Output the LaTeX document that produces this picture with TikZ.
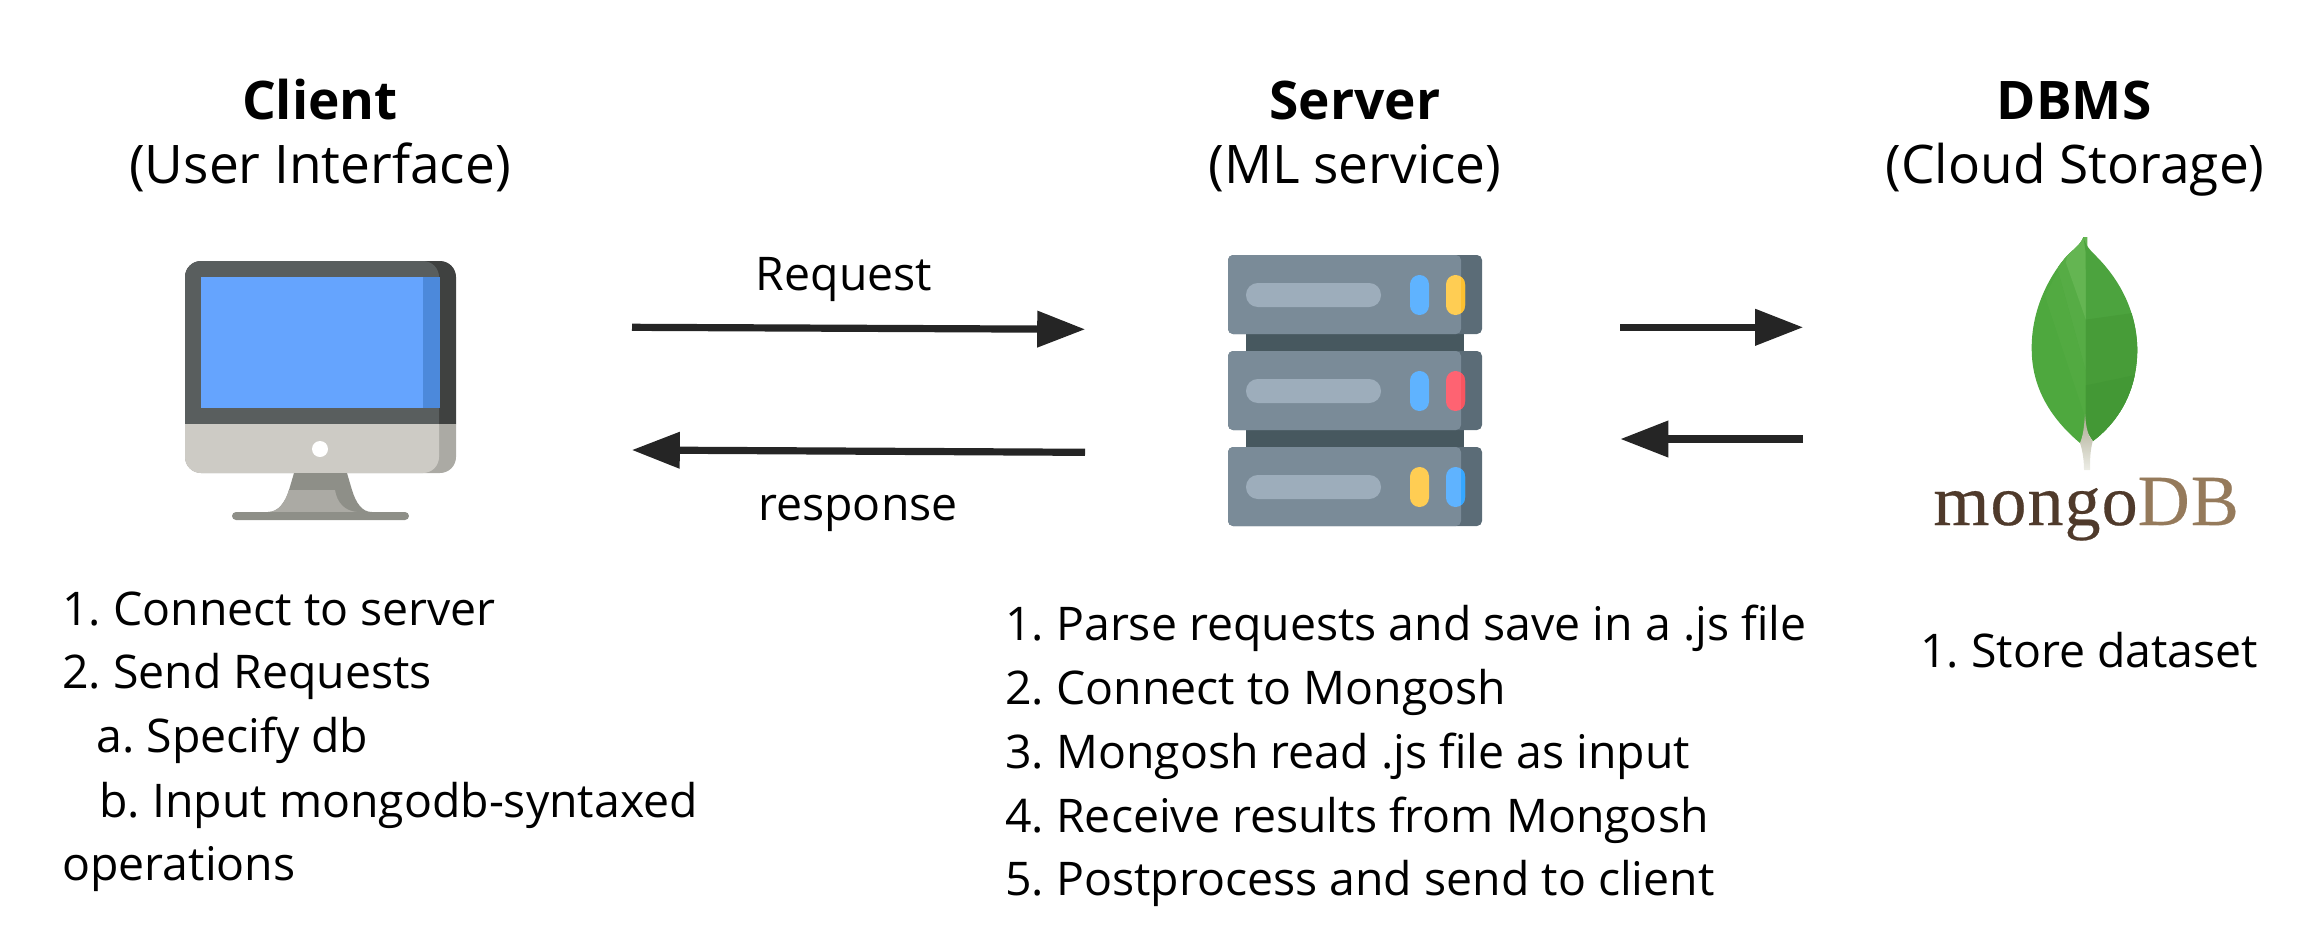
\documentclass[tikz,border=0pt]{standalone}
\usepackage{fontspec}
\setmainfont{Open Sans}
\newfontfamily\logofont[LetterSpace=1.5,FakeBold=0.35]{Liberation Serif}
\usetikzlibrary{arrows.meta}
\definecolor{inkc}{HTML}{252525}
\definecolor{bezel}{HTML}{595E5E}
\definecolor{bezeld}{HTML}{3F4140}
\definecolor{chin}{HTML}{CDCBC5}
\definecolor{chind}{HTML}{ABAAA4}
\definecolor{scr}{HTML}{65A4FE}
\definecolor{scrd}{HTML}{4C89DB}
\definecolor{standd}{HTML}{8E8F88}
\definecolor{rackc}{HTML}{7A8B98}
\definecolor{rackd}{HTML}{5B6C77}
\definecolor{rackj}{HTML}{47585F}
\definecolor{pillc}{HTML}{9DADBB}
\definecolor{ledb}{HTML}{5FB3FF}
\definecolor{ledbd}{HTML}{36A7FF}
\definecolor{ledy}{HTML}{FFCD53}
\definecolor{ledyd}{HTML}{FDC030}
\definecolor{ledr}{HTML}{FE6372}
\definecolor{ledrd}{HTML}{F85560}
\definecolor{mongoc}{HTML}{4F3A2B}
\definecolor{dbc}{HTML}{957A5B}
\definecolor{leafa}{HTML}{4EA83E}
\definecolor{leafb}{HTML}{56AC45}
\definecolor{leafc}{HTML}{52AA41}
\definecolor{leafd}{HTML}{64B552}
\definecolor{leafe}{HTML}{4CA33E}
\definecolor{leaff}{HTML}{479C38}
\definecolor{leafg}{HTML}{439835}
\definecolor{stemt}{HTML}{A9A88F}
\definecolor{stemb}{HTML}{EDEDE6}
\tikzset{
  body/.style={font=\frenchspacing\fontsize{23.2}{31.85}\selectfont,inner sep=0pt,anchor=base west,align=left},
  centred/.style={font=\fontsize{23.2}{31.85}\selectfont,inner sep=0pt,anchor=base},
  titlesub/.style={font=\fontsize{26.6}{31.85}\selectfont,inner sep=0pt,anchor=base},
  boldt/.style={font=\fontsize{26.6}{31.85}\selectfont\bfseries,inner sep=0pt,anchor=base},
  flow/.style={draw=inkc,line width=3.6pt,-{Triangle[length=24pt,width=17.5pt,fill=inkc]},shorten >=-0.1pt},
  logo/.style={font=\fontsize{36}{36}\logofont\selectfont,inner sep=0pt,anchor=base west},
}
\newcommand{\rackunit}[4]{%
  % #1 top y, #2 left led colour, #3 right led colour, #4 right led dark part
  \fill[rackd,rounded corners=2.5pt] (1228,#1) rectangle (1482,#1+79);
  \fill[rackc,rounded corners=2.5pt] (1228,#1) rectangle (1461,#1+79);
  \fill[pillc,rounded corners=5.9pt] (1246,#1+28) rectangle (1381,#1+52);
  \fill[#2,rounded corners=4.7pt] (1410,#1+20) rectangle (1429,#1+60);
  \fill[#3,rounded corners=4.7pt] (1446,#1+20) rectangle (1465,#1+60);
  \begin{scope}
    \clip (1461,#1) rectangle (1466,#1+79);
    \fill[#4,rounded corners=4.7pt] (1446,#1+20) rectangle (1465,#1+60);
  \end{scope}
}
\begin{document}
\begin{tikzpicture}[x=0.5pt,y=-0.5pt]
\useasboundingbox (0,0) rectangle (2314,934);
% Titles
\node[boldt] (ct) at (320,119) {Client};
\node[titlesub] (cs) at (320,183) {(User Interface)};
\node[boldt] (st) at (1355,119) {Server};
\node[titlesub] (ss) at (1355,183) {(ML service)};
\node[boldt] (dt) at (2074,119) {DBMS};
\node[titlesub] (ds) at (2075,183) {(Cloud Storage)};
% Monitor
\fill[bezeld] (185,424) -- (185,277) arc[start angle=180,end angle=90,radius=8pt] -- (440,261) arc[start angle=90,end angle=0,radius=8pt] -- (456,424) -- cycle;
\fill[chind] (185,424) -- (185,457) arc[start angle=180,end angle=270,radius=8pt] -- (440,473) arc[start angle=270,end angle=360,radius=8pt] -- (456,424) -- cycle;
\fill[bezel] (185,424) -- (185,277) arc[start angle=180,end angle=90,radius=8pt] -- (423,261) arc[start angle=90,end angle=0,radius=8pt] -- (439,424) -- cycle;
\fill[chin] (185,424) -- (185,457) arc[start angle=180,end angle=270,radius=8pt] -- (423,473) arc[start angle=270,end angle=360,radius=8pt] -- (439,424) -- cycle;
\fill[scr] (201,277) rectangle (423,408);
\fill[scrd] (423,277) rectangle (440,408);
\fill[white] (320,449) circle[radius=4pt];
\fill[standd] (294,473) -- (347,473) -- (352,490) .. controls (356,503) and (362,512) .. (372,512) -- (268,512) .. controls (278,512) and (285,503) .. (289,490) -- cycle;
\fill[chind] (289,490) -- (335,490) .. controls (337,503) and (345,511) .. (357,512) -- (268,512) .. controls (278,512) and (285,503) .. (289,490) -- cycle;
\fill[standd,rounded corners=2pt] (232,512) rectangle (409,520);
% Server
\fill[rackj] (1246,330) rectangle (1464,355);
\fill[rackj] (1246,426) rectangle (1464,451);
\rackunit{255}{ledb}{ledy}{ledyd}
\rackunit{351}{ledb}{ledr}{ledrd}
\rackunit{447}{ledy}{ledb}{ledbd}
% Leaf
\begin{scope}
  \clip (2083.5,237) .. controls (2080,246) and (2072,250) .. (2065,258) .. controls (2045,282) and (2031,315) .. (2031.7,350) .. controls (2032,392) and (2055,422) .. (2080,443) -- (2087,443) -- (2087,237) -- cycle;
  \fill[leafa] (2020,230) rectangle (2090,450);
  \fill[leafb] (2058,271) -- (2086,372) -- (2090,372) -- (2090,230) -- (2060,230) -- cycle;
  \fill[leafc] (2045,296) -- (2086,420) -- (2090,420) -- (2090,372) -- (2086,372) -- (2058,271) -- cycle;
  \fill[leafd] (2066,263) -- (2086,320) -- (2090,320) -- (2090,230) -- (2070,230) -- cycle;
\end{scope}
\begin{scope}
  \clip (2083.5,237) .. controls (2085,245) and (2090,250) .. (2096,256) .. controls (2120,280) and (2137,312) .. (2137.3,350) .. controls (2137,392) and (2118,422) .. (2093,441) -- (2086,430) -- (2085.7,253) -- cycle;
  \fill[leafe] (2083,230) rectangle (2140,450);
  \fill[leaff] (2083,320) -- (2140,312) -- (2140,450) -- (2083,450) -- cycle;
  \fill[leafg] (2083,386) -- (2140,374) -- (2140,450) -- (2083,450) -- cycle;
\end{scope}
\shade[top color=stemt,bottom color=stemb] (2085,414) .. controls (2084,428) and (2083,436) .. (2080,443) .. controls (2083,452) and (2084,462) .. (2084,470) -- (2090,470) .. controls (2090,460) and (2090,452) .. (2092.7,441) .. controls (2088,436) and (2086,428) .. (2085,414) -- cycle;
\node[logo] (logo) at (1933,525) {\textcolor{mongoc}{mongo}\textcolor{dbc}{DB}};
% Connectors
\coordinate (reqa) at (632,327.3);
\coordinate (reqb) at (1085,329.3);
\coordinate (resa) at (1085,452.3);
\coordinate (resb) at (632,450);
\coordinate (ra) at (1620,327.3);
\coordinate (rb) at (1803,327.3);
\coordinate (la) at (1803,439);
\coordinate (lb) at (1620.5,439);
\draw[flow] (reqa) -- (reqb);
\draw[flow] (resa) -- (resb);
\draw[flow] (ra) -- (rb);
\draw[flow] (la) -- (lb);
\node[centred] (req) at (844,290) {Request};
\node[centred] (res) at (858,520) {response};
% Lists
\node[body] (cl1) at (62,625) {1. Connect to server};
\node[body] (cl2) at (62,688.5) {2. Send Requests};
\node[body] (cl3) at (96,752) {a. Specify db};
\node[body] (cl4) at (99,817) {b. Input mongodb-syntaxed};
\node[body] (cl5) at (62,880) {operations};
\node[body] (sl1) at (1005,640) {1. Parse requests and save in a .js file};
\node[body] (sl2) at (1005,704) {2. Connect to Mongosh};
\node[body] (sl3) at (1005,768) {3. Mongosh read .js file as input};
\node[body] (sl4) at (1005,832) {4. Receive results from Mongosh};
\node[body] (sl5) at (1005,895) {5. Postprocess and send to client};
\node[body] (dl1) at (1920,667) {1. Store dataset};
\end{tikzpicture}
\end{document}
